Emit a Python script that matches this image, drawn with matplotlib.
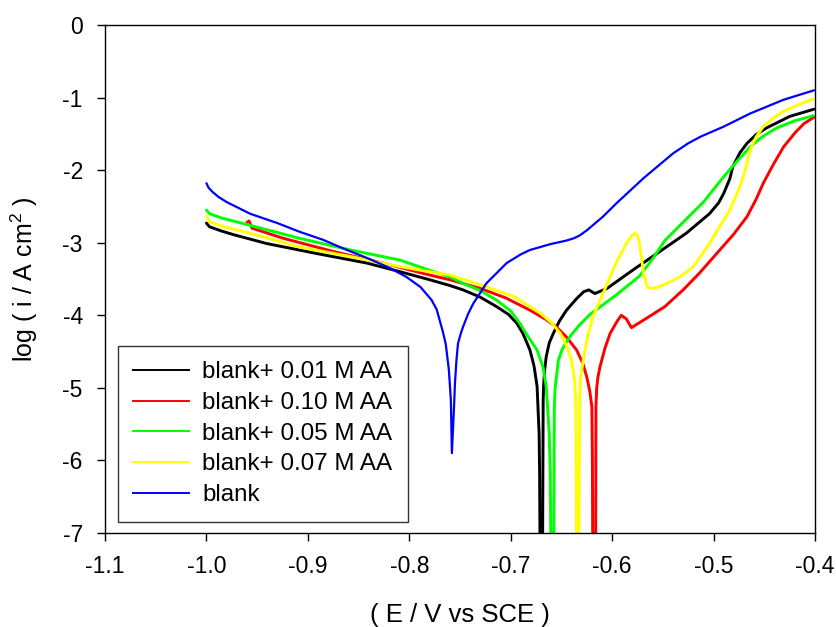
import matplotlib
matplotlib.use("Agg")
import matplotlib.pyplot as plt
from matplotlib.lines import Line2D

plt.rcParams['font.family'] = ['Liberation Sans', 'DejaVu Sans']
plt.rcParams['mathtext.default'] = 'regular'

# potentiodynamic polarisation curves: potential (V vs SCE) and log current density
e_001 = [-1.000, -0.997, -0.985, -0.973, -0.941, -0.891, -0.842, -0.809, -0.780, -0.760,
         -0.747, -0.730, -0.714, -0.702, -0.694, -0.688, -0.681, -0.677, -0.674, -0.672,
         -0.6715, -0.6712, -0.6705, -0.6685, -0.668, -0.6675, -0.6665, -0.665, -0.662, -0.658,
         -0.652, -0.645, -0.635, -0.628, -0.623, -0.617, -0.605, -0.582, -0.556, -0.527,
         -0.504, -0.495, -0.490, -0.484, -0.481, -0.474, -0.467, -0.458, -0.448, -0.425,
         -0.401]
logi_001 = [-2.73, -2.78, -2.84, -2.89, -3.01, -3.15, -3.28, -3.40, -3.51, -3.59,
            -3.65, -3.75, -3.88, -3.99, -4.11, -4.25, -4.48, -4.70, -4.98, -5.63,
            -6.20, -7.00, -7.60, -7.00, -5.17, -4.95, -4.75, -4.57, -4.38, -4.25,
            -4.08, -3.93, -3.77, -3.675, -3.65, -3.70, -3.63, -3.40, -3.15, -2.87,
            -2.60, -2.45, -2.32, -2.12, -1.95, -1.76, -1.63, -1.51, -1.42, -1.26,
            -1.16]

e_010 = [-0.960, -0.958, -0.955, -0.924, -0.875, -0.826, -0.780, -0.760, -0.730, -0.705,
         -0.681, -0.665, -0.655, -0.645, -0.635, -0.629, -0.625, -0.622, -0.620, -0.6195,
         -0.6192, -0.6175, -0.6162, -0.616, -0.6152, -0.614, -0.612, -0.607, -0.602, -0.595,
         -0.591, -0.586, -0.581, -0.566, -0.548, -0.530, -0.514, -0.497, -0.480, -0.467,
         -0.458, -0.451, -0.441, -0.431, -0.420, -0.411, -0.401]
logi_010 = [-2.72, -2.70, -2.80, -2.94, -3.12, -3.28, -3.445, -3.51, -3.63, -3.76,
            -3.93, -4.06, -4.16, -4.30, -4.48, -4.66, -4.85, -5.05, -5.26, -5.90,
            -7.00, -7.60, -7.00, -5.26, -5.00, -4.85, -4.71, -4.45, -4.25, -4.08,
            -4.00, -4.05, -4.17, -4.04, -3.88, -3.65, -3.42, -3.15, -2.88, -2.64,
            -2.40, -2.18, -1.92, -1.68, -1.49, -1.36, -1.27]

e_005 = [-1.000, -0.997, -0.985, -0.957, -0.908, -0.858, -0.809, -0.780, -0.760, -0.747,
         -0.730, -0.714, -0.700, -0.691, -0.684, -0.674, -0.668, -0.665, -0.662, -0.661,
         -0.6605, -0.659, -0.6575, -0.657, -0.6562, -0.6545, -0.653, -0.649, -0.642, -0.632,
         -0.622, -0.596, -0.573, -0.560, -0.548, -0.533, -0.510, -0.490, -0.477, -0.464,
         -0.452, -0.438, -0.420, -0.402]
logi_005 = [-2.55, -2.60, -2.66, -2.76, -2.94, -3.10, -3.24, -3.38, -3.47, -3.56,
            -3.66, -3.79, -3.94, -4.11, -4.27, -4.48, -4.72, -4.98, -5.63, -6.20,
            -7.00, -7.60, -7.00, -5.26, -5.00, -4.80, -4.62, -4.46, -4.30, -4.13,
            -3.99, -3.72, -3.46, -3.22, -2.97, -2.76, -2.44, -2.09, -1.88, -1.68,
            -1.54, -1.42, -1.32, -1.25]

e_007 = [-1.000, -0.997, -0.985, -0.957, -0.908, -0.858, -0.809, -0.780, -0.760, -0.730,
         -0.697, -0.671, -0.660, -0.651, -0.645, -0.640, -0.637, -0.636, -0.6355, -0.6352,
         -0.634, -0.6328, -0.632, -0.631, -0.628, -0.624, -0.619, -0.609, -0.602, -0.596,
         -0.586, -0.581, -0.5775, -0.575, -0.573, -0.571, -0.569, -0.5665, -0.564, -0.556,
         -0.546, -0.533, -0.520, -0.504, -0.484, -0.474, -0.468, -0.464, -0.458, -0.451,
         -0.441, -0.431, -0.415, -0.402]
logi_007 = [-2.64, -2.71, -2.77, -2.87, -3.06, -3.19, -3.33, -3.40, -3.445, -3.58,
            -3.74, -3.97, -4.10, -4.25, -4.42, -4.62, -4.90, -5.17, -5.80, -7.00,
            -7.60, -7.00, -5.17, -4.85, -4.57, -4.28, -4.02, -3.70, -3.47, -3.28,
            -3.01, -2.91, -2.87, -2.90, -3.01, -3.22, -3.42, -3.56, -3.63, -3.62,
            -3.56, -3.47, -3.33, -3.01, -2.55, -2.23, -1.96, -1.72, -1.54, -1.40,
            -1.28, -1.19, -1.09, -1.02]

e_blank = [-1.000, -0.998, -0.994, -0.988, -0.980, -0.957, -0.930, -0.908, -0.885, -0.865,
           -0.840, -0.819, -0.803, -0.789, -0.778, -0.773, -0.770, -0.767, -0.764, -0.761,
           -0.759, -0.758, -0.7556, -0.755, -0.7535, -0.752, -0.749, -0.747, -0.742, -0.737,
           -0.724, -0.704, -0.690, -0.681, -0.661, -0.645, -0.638, -0.632, -0.625, -0.609,
           -0.596, -0.569, -0.540, -0.525, -0.513, -0.490, -0.464, -0.431, -0.401]
logi_blank = [-2.18, -2.24, -2.30, -2.37, -2.44, -2.60, -2.73, -2.85, -2.96, -3.08,
              -3.22, -3.35, -3.47, -3.61, -3.79, -3.92, -4.07, -4.22, -4.40, -4.75,
              -5.17, -5.90, -5.17, -4.94, -4.62, -4.39, -4.24, -4.16, -3.98, -3.84,
              -3.56, -3.28, -3.16, -3.10, -3.02, -2.97, -2.94, -2.90, -2.83, -2.64,
              -2.46, -2.11, -1.77, -1.63, -1.54, -1.40, -1.22, -1.03, -0.90]

labels = ['blank+ 0.01 M AA', 'blank+ 0.10 M AA', 'blank+ 0.05 M AA',
          'blank+ 0.07 M AA', 'blank']
colors = ['#000000', '#ff0000', '#00ff00', '#ffff00', '#0000ff']
xs = [e_001, e_010, e_005, e_007, e_blank]
ys = [logi_001, logi_010, logi_005, logi_007, logi_blank]
widths = [2.1, 2.1, 2.1, 2.1, 1.6]

fig = plt.figure(figsize=(8.36, 6.27), dpi=100)
ax = fig.add_axes([105 / 836, 1 - 533 / 627, 710 / 836, 508 / 627])

for x, y, c, w in zip(xs, ys, colors, widths):
    ax.plot(x, y, color=c, lw=w, solid_joinstyle='round', solid_capstyle='round')

ax.set_xlim(-1.1, -0.4)
ax.set_ylim(-7, 0)
ax.set_xticks([-1.1, -1.0, -0.9, -0.8, -0.7, -0.6, -0.5, -0.4])
ax.set_xticklabels(['-1.1', '-1.0', '-0.9', '-0.8', '-0.7', '-0.6', '-0.5', '-0.4'])
ax.set_yticks(range(-7, 1))
ax.set_yticklabels([str(v) for v in range(-7, 1)])
ax.tick_params(direction='out', length=6, width=1, labelsize=16.5, pad=10)
for s in ax.spines.values():
    s.set_linewidth(1)

ax.set_xlabel('( E / V vs SCE )', fontsize=18.5, labelpad=18)
ax.set_ylabel('log ( i / A cm$^2$ )', fontsize=18, labelpad=16)

handles = [Line2D([], [], color=c, lw=1.4) for c in colors]
leg = ax.legend(handles, labels, loc='lower left', bbox_to_anchor=(0.018, 0.022),
                borderaxespad=0, fontsize=17.4, frameon=True, fancybox=False,
                edgecolor='black', handlelength=2.3, handletextpad=0.55,
                labelspacing=0.36, borderpad=0.65)
leg.get_frame().set_linewidth(1)

fig.savefig('out.png', dpi=100)
